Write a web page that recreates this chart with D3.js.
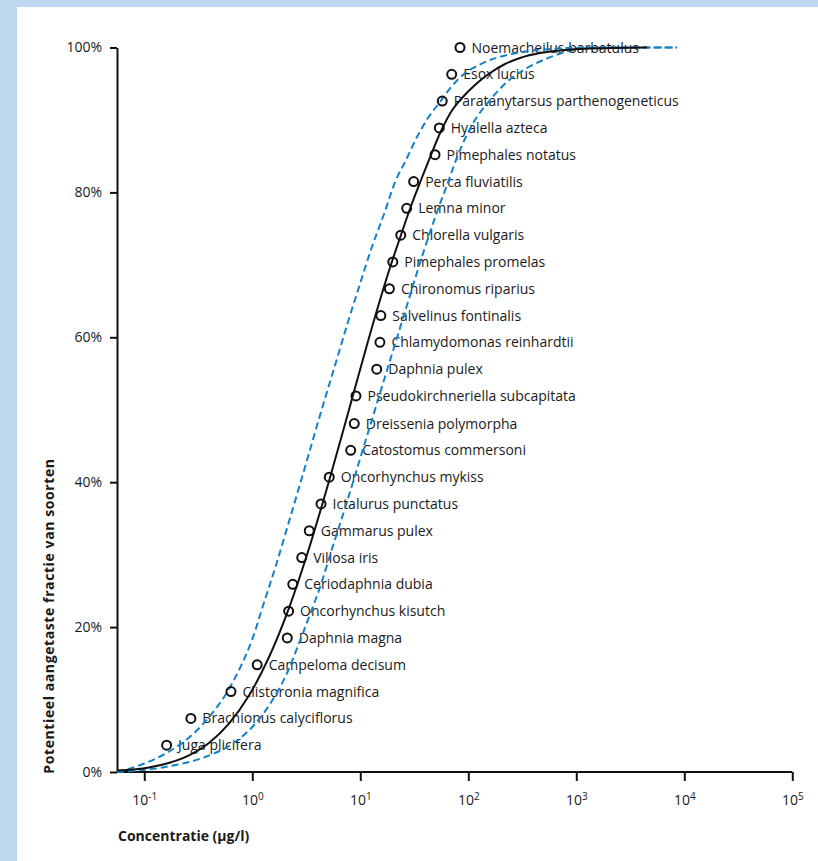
<!DOCTYPE html>
<html>
<head>
<meta charset="utf-8">
<script src="https://cdn.jsdelivr.net/npm/d3@7"></script>
<style>
	body { margin: 0; background: #bcd7ee; }
	svg { display: block; }
	text { font-family: "Open Sans", "Noto Sans", sans-serif; fill: #1a1a1a; }
</style>
</head>
<body>
<div id="chart"></div>
<script>
// species, sorted from most to least sensitive
const species = [
	"Juga plicifera", "Brachionus calyciflorus", "Clistoronia magnifica", "Campeloma decisum",
	"Daphnia magna", "Oncorhynchus kisutch", "Ceriodaphnia dubia", "Villosa iris",
	"Gammarus pulex", "Ictalurus punctatus", "Oncorhynchus mykiss", "Catostomus commersoni",
	"Dreissenia polymorpha", "Pseudokirchneriella subcapitata", "Daphnia pulex",
	"Chlamydomonas reinhardtii", "Salvelinus fontinalis", "Chironomus riparius",
	"Pimephales promelas", "Chlorella vulgaris", "Lemna minor", "Perca fluviatilis",
	"Pimephales notatus", "Hyalella azteca", "Paratanytarsus parthenogeneticus",
	"Esox lucius", "Noemacheilus barbatulus",
];
// toxicity (µg/l)
const speciesConc = [
	0.161, 0.270, 0.635, 1.11, 2.11, 2.17, 2.37, 2.87, 3.37, 4.33, 5.16, 8.15, 8.80, 9.12,
	14.2, 15.2, 15.5, 18.6, 20.0, 23.7, 26.9, 31.2, 49.2, 53.9, 57.4, 70.2, 83.8,
];
// potentially affected fraction (%)
const speciesFrac = [
	3.7, 7.4, 11.1, 14.8, 18.5, 22.2, 25.9, 29.6, 33.3, 37.0, 40.7, 44.4, 48.1, 51.9,
	55.6, 59.3, 63.0, 66.7, 70.4, 74.1, 77.8, 81.5, 85.2, 88.9, 92.6, 96.3, 100,
];

// fitted curve
const fitConc = [
	0.0559, 0.1105, 0.259, 0.397, 0.608, 0.932, 1.43, 2.19, 3.35, 5.13, 7.86, 12.0, 18.4,
	23.8, 29.5, 36.5, 45.1, 55.9, 69.2, 87.4, 118, 159, 219, 301, 461, 707, 1339, 4513,
];
const fitFrac = [
	0.19, 0.62, 2.28, 4.0, 6.68, 10.56, 15.87, 22.66, 30.85, 40.13, 50.0, 59.87, 69.15,
	74.12, 78.12, 81.71, 85.16, 88.47, 91.10, 93.03, 94.96, 96.48, 97.72, 98.55, 99.24, 99.59, 99.86, 100,
];

// confidence band, lower concentration side
const lowConc = [
	0.0559, 0.0973, 0.173, 0.277, 0.406, 0.571, 0.769, 0.994, 1.28, 1.66, 2.14, 2.77,
	3.57, 4.61, 5.96, 7.69, 9.94, 12.8, 16.6, 21.0, 26.5, 33.5, 42.4, 54.7, 70.7, 91.3,
	118, 159, 219, 314, 461, 707, 1339, 8557,
];
const lowFrac = [
	0, 1.10, 2.90, 5.11, 7.73, 10.77, 14.35, 18.22, 23.33, 28.57, 34.09, 39.75,
	45.41, 51.07, 56.59, 62.11, 67.36, 72.46, 77.02, 81.44, 84.47, 87.65, 90.27, 92.48, 94.69, 96.34,
	97.38, 98.27, 98.90, 99.38, 99.68, 99.89, 100, 100,
];

// confidence band, higher concentration side
const highConc = [
	0.0559, 0.156, 0.365, 0.649, 1.02, 1.52, 2.10, 2.65, 3.35, 4.24, 5.47, 7.37,
	10.4, 16.6, 27.1, 35.7, 51.3, 63.5, 83.8, 111, 159, 228, 350, 535, 932, 1657, 8557,
];
const highFrac = [
	0, 0.69, 2.07, 3.86, 6.35, 9.80, 13.67, 17.39, 21.39, 25.53, 30.78, 36.85,
	44.17, 54.11, 64.46, 70.26, 77.29, 81.02, 85.85, 89.58, 92.75, 95.24, 97.17, 98.48, 99.65, 100, 100,
];

const xTicks = [0.1, 1, 10, 100, 1000, 10000, 100000];
const yTicks = [0, 20, 40, 60, 80, 100];

const WIDTH = 818;
const HEIGHT = 861;
const PLOT = { LEFT: 117, RIGHT: 792.3, TOP: 47.5, BOTTOM: 772 };
const BLUE = "#1482c9";

const svg = d3
	.select("#chart")
	.append("svg")
	.attr("width", WIDTH)
	.attr("height", HEIGHT);

// white panel
svg.append("rect")
	.attr("x", 17)
	.attr("y", 7)
	.attr("width", WIDTH - 17)
	.attr("height", HEIGHT - 7)
	.attr("fill", "white");

const xScale = d3.scaleLog().domain([0.0559, 100000]).range([PLOT.LEFT, PLOT.RIGHT]);
const yScale = d3.scaleLinear().domain([0, 100]).range([PLOT.BOTTOM, PLOT.TOP]);

// axes
const yAxis = svg
	.append("g")
	.attr("transform", `translate(${PLOT.LEFT},0)`)
	.call(d3.axisLeft(yScale).tickValues(yTicks).tickSize(7).tickSizeOuter(0).tickPadding(8).tickFormat((d) => d + "%"));

const xAxis = svg
	.append("g")
	.attr("transform", `translate(0,${PLOT.BOTTOM})`)
	.call(d3.axisBottom(xScale).tickValues(xTicks).tickSize(9).tickSizeOuter(0).tickPadding(14).tickFormat(""));

xAxis.select(".domain").attr("d", `M${PLOT.LEFT},0H${PLOT.RIGHT}`);

[xAxis, yAxis].forEach((g) => {
	g.selectAll(".domain, .tick line").attr("stroke", "#111").attr("stroke-width", 2);
	g.selectAll("text").style("font-size", "14px").attr("fill", "#1a1a1a");
});

xAxis.selectAll(".tick text").each(function (d) {
	const t = d3.select(this);
	t.append("tspan").text("10");
	t.append("tspan")
		.attr("dy", "-0.45em")
		.style("font-size", "10px")
		.text(Math.round(Math.log10(d)) < 0 ? "-1" : Math.round(Math.log10(d)));
});

// axis titles
svg.append("text")
	.attr("x", PLOT.LEFT + 1)
	.attr("y", 841)
	.style("font-size", "14px")
	.style("font-weight", "bold")
	.text("Concentratie (µg/l)");

svg.append("text")
	.attr("transform", "translate(54,616) rotate(-90)")
	.attr("text-anchor", "middle")
	.style("font-size", "14px")
	.style("font-weight", "bold")
	.style("letter-spacing", "0.6px")
	.text("Potentieel aangetaste fractie van soorten");

// species labels
const points = species.map((name, i) => ({ name, conc: speciesConc[i], frac: speciesFrac[i] }));

svg.append("g")
	.selectAll("text")
	.data(points)
	.join("text")
	.attr("x", (d) => xScale(d.conc) + 11.5)
	.attr("y", (d) => yScale(d.frac))
	.attr("dy", "0.36em")
	.style("font-size", "14px")
	.text((d) => d.name);

// curves
const line = d3
	.line()
	.x((d) => xScale(d[0]))
	.y((d) => yScale(d[1]))
	.curve(d3.curveMonotoneX);

const zip = (a, b) => a.map((v, i) => [v, b[i]]);

[zip(lowConc, lowFrac), zip(highConc, highFrac)].forEach((band) => {
	svg.append("path")
		.attr("d", line(band))
		.attr("fill", "none")
		.attr("stroke", BLUE)
		.attr("stroke-width", 2)
		.attr("stroke-dasharray", "7,4");
});

svg.append("path")
	.attr("d", line(zip(fitConc, fitFrac)))
	.attr("fill", "none")
	.attr("stroke", "#111")
	.attr("stroke-width", 2);

// observations
svg.append("g")
	.selectAll("circle")
	.data(points)
	.join("circle")
	.attr("cx", (d) => xScale(d.conc))
	.attr("cy", (d) => yScale(d.frac))
	.attr("r", 4.5)
	.attr("fill", "none")
	.attr("stroke", "#111")
	.attr("stroke-width", 2);
</script>
</body>
</html>
